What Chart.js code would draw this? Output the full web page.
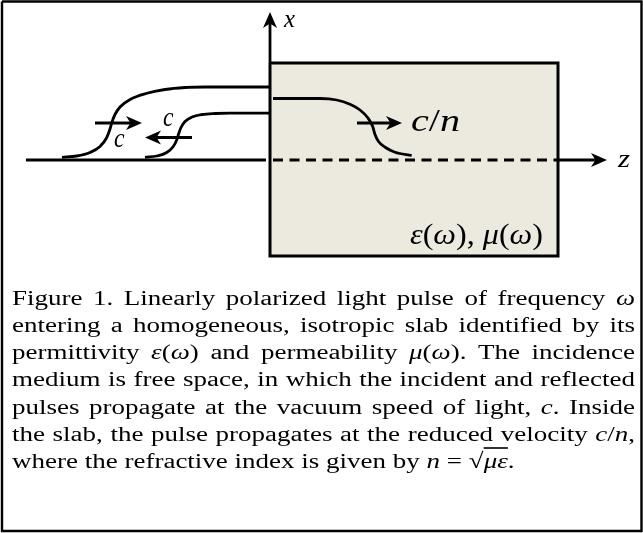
<!DOCTYPE html>
<html><head><meta charset="utf-8">
<script src="https://cdn.jsdelivr.net/npm/chart.js@4.4.1/dist/chart.umd.min.js"></script>
<style>
html,body{margin:0;padding:0;background:#fff;}
#wrap{position:relative;width:643px;height:533px;overflow:hidden;background:#fff;}
#c{position:absolute;left:0;top:0;}
#caption{position:absolute;left:12px;top:283.5px;width:623px;font-family:"Liberation Serif","Times New Roman",serif;font-size:27px;line-height:34px;color:#000;transform:scaleY(0.8);transform-origin:0 0;}
#caption div{white-space:nowrap;text-align:justify;text-align-last:justify;}
#caption div.last{text-align-last:left;}
#caption i{font-style:italic;}
.ol{text-decoration:overline;}
</style></head>
<body>
<div id="wrap">
<canvas id="c" width="643" height="533"></canvas>
<div id="caption">
<div>Figure 1. Linearly polarized light pulse of frequency <i>ω</i></div>
<div>entering a homogeneous, isotropic slab identified by its</div>
<div>permittivity <i>ε</i>(<i>ω</i>) and permeability <i>μ</i>(<i>ω</i>). The incidence</div>
<div>medium is free space, in which the incident and reflected</div>
<div>pulses propagate at the vacuum speed of light, <i>c</i>. Inside</div>
<div>the slab, the pulse propagates at the reduced velocity <i>c</i>/<i>n</i>,</div>
<div class="last">where the refractive index is given by <i>n</i> = √<span class="ol"><i>με</i></span>.</div>
</div>
</div>
<script>
// ---- diagram data (diagram coordinates) ----
const outerFrame = [[2,1.5],[641.5,1.5],[641.5,531],[2,531],[2,1.5]];
const slabTopEdge = [[270,63],[558,63]];
const slabBottom = 256;
const slabOutline = [[270,63],[558,63],[558,256],[270,256],[270,63]];
const zAxisVacuum = [[26,160],[266,160]];
const zAxisSlab = [[273,160],[558,160]];
const incidentPulse = [[62,157.3],[76.7,156],[90,152.5],[100,146.5],[106.5,138],[110,129],[112,122],[115,114.5],[120,107],[131,99],[146,93.5],[165,89.5],[185,87.5],[205,87],[269,87]];
const reflectedPulse = [[145,157.3],[156.7,156],[166.7,152.5],[173.3,146.5],[176.7,140],[178.6,134],[181,127.5],[185,121.5],[192,117],[202,114.5],[215,113.5],[230,113.2],[269,113.2]];
const transmittedPulse = [[273,98.5],[320,98.5],[336.7,100],[350,104.3],[360,110],[368,118],[372.7,126.5],[375,134.5],[378.5,141.5],[385.5,147.5],[395,152.2],[411.7,155.5]];
const arrows = [
  {from:[270,63], to:[270,12]},    // x axis
  {from:[558,160], to:[607,160]},  // z axis
  {from:[95,123], to:[142,123]},   // incident, c
  {from:[192,137.5], to:[145,137.5]}, // reflected, c
  {from:[357,123], to:[402,123]}   // transmitted, c/n
];
const labels = [
  {x:284, y:27,  w:11,  size:26, runs:[['x',1]]},
  {x:618, y:167, w:12,  size:26, runs:[['z',1]]},
  {x:114, y:147, w:10.5,size:28, runs:[['c',1]]},
  {x:163, y:126, w:10.5,size:28, runs:[['c',1]]},
  {x:411, y:131, w:49,  size:31, runs:[['c',1],['/',0],['n',1]]},
  {x:410, y:244, w:133, size:29, runs:[['ε',1],['(',0],['ω',1],['), ',0],['μ',1],['(',0],['ω',1],[')',0]]}
];

const pts = a => a.map(([x,y]) => ({x, y}));
function line(points, opts) {
  return Object.assign({data: pts(points), showLine: true, borderColor: '#000', borderWidth: 2.8,
    pointRadius: 0, fill: false, tension: 0, clip: false, borderCapStyle: 'butt'}, opts || {});
}
const HEAD_L = 16, HEAD_W = 7;
const shafts = arrows.map(a => {
  const dx = a.to[0]-a.from[0], dy = a.to[1]-a.from[1], len = Math.hypot(dx,dy);
  const ux = dx/len, uy = dy/len;
  return line([a.from, [a.to[0]-ux*HEAD_L*0.6, a.to[1]-uy*HEAD_L*0.6]]);
});

const datasets = [
  line(slabTopEdge, {borderWidth: 0, fill: {value: slabBottom}, backgroundColor: '#ECE9DF', order: 20}),
  line(outerFrame, {borderWidth: 2.4, order: 5}),
  line(slabOutline, {borderWidth: 3, borderJoinStyle: 'miter', order: 4}),
  line(zAxisVacuum, {order: 3}),
  line(zAxisSlab, {borderDash: [10, 6.5], order: 3}),
  line(incidentPulse, {cubicInterpolationMode: 'monotone', order: 2}),
  line(reflectedPulse, {cubicInterpolationMode: 'monotone', order: 2}),
  line(transmittedPulse, {cubicInterpolationMode: 'monotone', order: 2}),
  ...shafts.map(s => Object.assign(s, {order: 1}))
];

const overlay = {
  id: 'overlay',
  afterDatasetsDraw(chart) {
    const ctx = chart.ctx, xs = chart.scales.x, ys = chart.scales.y;
    ctx.save();
    ctx.fillStyle = '#000';
    arrows.forEach(a => {
      const tx = xs.getPixelForValue(a.to[0]), ty = ys.getPixelForValue(a.to[1]);
      const fx = xs.getPixelForValue(a.from[0]), fy = ys.getPixelForValue(a.from[1]);
      const len = Math.hypot(tx-fx, ty-fy), ux = (tx-fx)/len, uy = (ty-fy)/len;
      const nx = -uy, ny = ux;
      const bx = tx-ux*HEAD_L, by = ty-uy*HEAD_L;
      const kx = tx-ux*HEAD_L*0.72, ky = ty-uy*HEAD_L*0.72;
      ctx.beginPath();
      ctx.moveTo(tx, ty);
      ctx.lineTo(bx+nx*HEAD_W, by+ny*HEAD_W);
      ctx.lineTo(kx, ky);
      ctx.lineTo(bx-nx*HEAD_W, by-ny*HEAD_W);
      ctx.closePath();
      ctx.fill();
    });
    ctx.textBaseline = 'alphabetic';
    ctx.textAlign = 'left';
    labels.forEach(l => {
      const fam = '"Liberation Serif","Times New Roman",serif';
      let total = 0;
      l.runs.forEach(([t, it]) => { ctx.font = (it ? 'italic ' : '') + l.size + 'px ' + fam; total += ctx.measureText(t).width; });
      const sx = l.w / total;
      ctx.save();
      ctx.translate(xs.getPixelForValue(l.x), ys.getPixelForValue(l.y));
      ctx.scale(sx, 1);
      let cx = 0;
      l.runs.forEach(([t, it]) => { ctx.font = (it ? 'italic ' : '') + l.size + 'px ' + fam; ctx.fillText(t, cx, 0); cx += ctx.measureText(t).width; });
      ctx.restore();
    });
    ctx.restore();
  }
};

new Chart(document.getElementById('c'), {
  type: 'scatter',
  data: {datasets},
  options: {
    responsive: false, animation: false, events: [],
    layout: {padding: 0},
    plugins: {legend: {display: false}, tooltip: {enabled: false}, title: {display: false}},
    scales: {
      x: {type: 'linear', min: 0, max: 643, display: false},
      y: {type: 'linear', min: 0, max: 533, reverse: true, display: false}
    }
  },
  plugins: [overlay]
});
</script>
</body></html>
